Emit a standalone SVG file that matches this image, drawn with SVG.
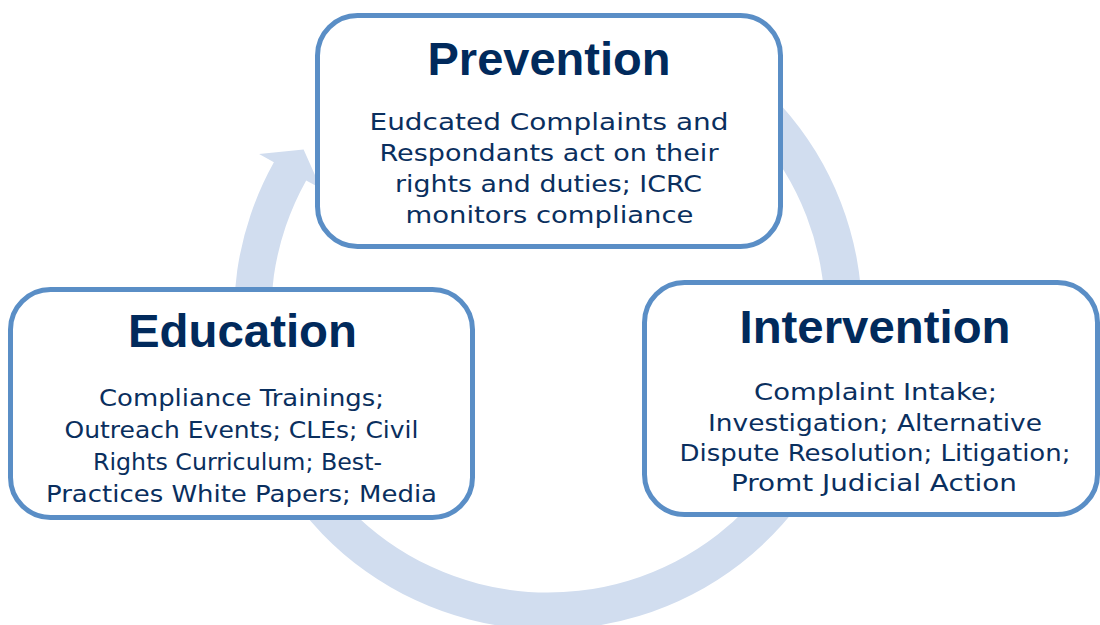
<svg xmlns="http://www.w3.org/2000/svg" width="1100" height="625" viewBox="0 0 1100 625">
  <style>
    .box { fill: #ffffff; stroke: #5a8ec6; stroke-width: 5; }
    .title { font-family: "Liberation Sans", Arial, sans-serif; font-weight: bold; font-size: 46px; fill: #012a5c; text-anchor: middle; }
    .body { font-family: "DejaVu Sans", "Liberation Sans", sans-serif; font-size: 23.5px; fill: #0a2f5e; text-anchor: middle; }
  </style>
  <rect width="1100" height="625" fill="#ffffff"/>
  <g id="connectors">
    <path id="cycle-arrow" fill="#d1ddef" d="M 781.3 105.4 A 314 314 0 1 1 273.9 162.3 L 259.1 154.0 L 303.6 149.4 L 321.0 188.6 L 306.2 180.4 A 277 277 0 1 0 753.8 130.2 Z"/>
  </g>
  <g id="prevention">
    <rect class="box" x="317.5" y="15.5" width="463" height="231" rx="40" ry="40"/>
    <text class="title" x="549" y="75" textLength="243" lengthAdjust="spacingAndGlyphs">Prevention</text>
    <text class="body" x="549" y="130" textLength="359" lengthAdjust="spacingAndGlyphs">Eudcated Complaints and</text>
    <text class="body" x="549" y="161" textLength="339" lengthAdjust="spacingAndGlyphs">Respondants act on their</text>
    <text class="body" x="548.5" y="192" textLength="307" lengthAdjust="spacingAndGlyphs">rights and duties; ICRC</text>
    <text class="body" x="549.5" y="223" textLength="288" lengthAdjust="spacingAndGlyphs">monitors compliance</text>
  </g>
  <g id="education">
    <rect class="box" x="10.5" y="289.5" width="462" height="228" rx="40" ry="40"/>
    <text class="title" x="242.5" y="346.5" textLength="229" lengthAdjust="spacingAndGlyphs">Education</text>
    <text class="body" x="241.5" y="406" textLength="285" lengthAdjust="spacingAndGlyphs">Compliance Trainings;</text>
    <text class="body" x="241.5" y="438" textLength="354" lengthAdjust="spacingAndGlyphs">Outreach Events; CLEs; Civil</text>
    <text class="body" x="237.5" y="469.5" textLength="289" lengthAdjust="spacingAndGlyphs">Rights Curriculum; Best-</text>
    <text class="body" x="241.5" y="501.5" textLength="391" lengthAdjust="spacingAndGlyphs">Practices White Papers; Media</text>
  </g>
  <g id="intervention">
    <rect class="box" x="644.5" y="282.5" width="453" height="232" rx="40" ry="40"/>
    <text class="title" x="875" y="342.5" textLength="271" lengthAdjust="spacingAndGlyphs">Intervention</text>
    <text class="body" x="875.5" y="400" textLength="243" lengthAdjust="spacingAndGlyphs">Complaint Intake;</text>
    <text class="body" x="875" y="431" textLength="334" lengthAdjust="spacingAndGlyphs">Investigation; Alternative</text>
    <text class="body" x="875" y="461" textLength="391" lengthAdjust="spacingAndGlyphs">Dispute Resolution; Litigation;</text>
    <text class="body" x="874" y="491" textLength="286" lengthAdjust="spacingAndGlyphs">Promt Judicial Action</text>
  </g>
</svg>
